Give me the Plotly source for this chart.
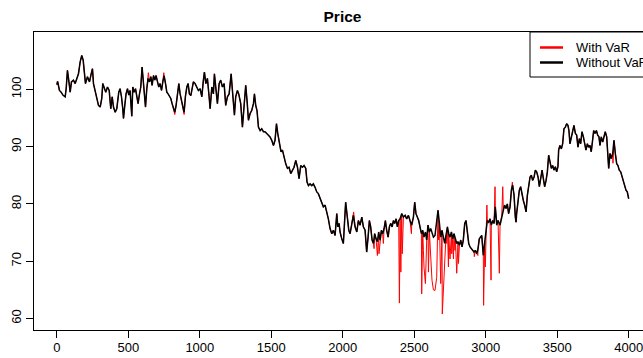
import plotly.graph_objects as go

# Price path without the VaR constraint (trading day, price)
days = [
    0, 5, 18, 30, 42, 58, 65, 74, 86, 93, 102, 116, 128, 140, 151, 163, 174, 184, 193, 200,
    214, 228, 240, 249, 256, 268, 279, 291, 303, 314, 321, 331, 342, 354, 366, 377, 387, 396, 408, 419,
    433, 442, 452, 461, 466, 475, 484, 494, 503, 512, 517, 524, 531, 540, 550, 559, 568, 578, 587, 596,
    603, 613, 620, 629, 638, 648, 657, 666, 676, 685, 694, 704, 713, 722, 732, 741, 750, 760, 769, 778,
    788, 797, 806, 816, 825, 834, 843, 853, 862, 871, 881, 890, 899, 909, 918, 927, 937, 946, 955, 967,
    979, 990, 1002, 1014, 1025, 1032, 1042, 1053, 1065, 1072, 1084, 1095, 1102, 1112, 1123, 1135, 1146, 1158, 1170, 1181,
    1193, 1205, 1219, 1228, 1242, 1251, 1263, 1272, 1286, 1298, 1310, 1321, 1331, 1340, 1352, 1363, 1375, 1382, 1391, 1400,
    1410, 1422, 1433, 1445, 1456, 1468, 1480, 1491, 1503, 1515, 1526, 1536, 1545, 1557, 1568, 1578, 1589, 1601, 1613, 1624,
    1636, 1648, 1659, 1671, 1683, 1694, 1706, 1718, 1729, 1741, 1750, 1760, 1771, 1783, 1794, 1806, 1818, 1829, 1841, 1853,
    1864, 1876, 1888, 1899, 1911, 1923, 1934, 1946, 1958, 1965, 1974, 1981, 1993, 2004, 2020, 2032, 2042, 2051, 2063, 2074,
    2086, 2098, 2109, 2121, 2133, 2144, 2156, 2167, 2177, 2186, 2195, 2205, 2214, 2223, 2233, 2242, 2251, 2261, 2270, 2279,
    2289, 2298, 2307, 2317, 2326, 2335, 2345, 2354, 2363, 2373, 2382, 2391, 2401, 2412, 2424, 2436, 2447, 2459, 2470, 2482,
    2494, 2503, 2512, 2522, 2531, 2540, 2550, 2559, 2568, 2578, 2587, 2596, 2606, 2615, 2624, 2634, 2645, 2657, 2666, 2676,
    2685, 2694, 2704, 2713, 2722, 2732, 2741, 2750, 2760, 2769, 2778, 2788, 2797, 2806, 2816, 2825, 2834, 2843, 2853, 2862,
    2871, 2881, 2890, 2899, 2909, 2918, 2927, 2937, 2946, 2955, 2972, 2983, 2993, 3002, 3011, 3021, 3030, 3039, 3049, 3058,
    3067, 3077, 3086, 3100, 3112, 3123, 3132, 3142, 3151, 3160, 3170, 3179, 3188, 3198, 3207, 3212, 3216, 3226, 3235, 3244,
    3254, 3263, 3272, 3282, 3291, 3300, 3310, 3319, 3328, 3338, 3347, 3356, 3366, 3375, 3384, 3394, 3403, 3412, 3422, 3431,
    3440, 3449, 3459, 3468, 3477, 3487, 3496, 3505, 3510, 3519, 3529, 3538, 3547, 3557, 3566, 3575, 3582, 3589, 3599, 3608,
    3617, 3627, 3636, 3645, 3655, 3664, 3673, 3683, 3692, 3701, 3711, 3720, 3729, 3738, 3746, 3755, 3764, 3774, 3783, 3792,
    3799, 3808, 3818, 3827, 3836, 3846, 3855, 3860, 3869, 3878, 3888, 3897, 3906, 3916, 3925, 3934, 3944, 3953, 3962, 3972,
    3981, 3990, 4000,
]
price_without_var = [
    100.8, 101.4, 99.8, 99.5, 99.0, 98.7, 100.1, 103.3, 101.0, 99.5, 101.3, 101.6, 101.0, 101.9, 102.7, 104.8, 105.9, 105.1, 103.3, 101.0,
    102.2, 101.3, 102.7, 103.6, 101.0, 99.5, 98.1, 97.2, 96.9, 98.4, 101.0, 100.4, 99.5, 100.4, 99.8, 96.6, 98.7, 96.9, 96.0, 96.6,
    99.5, 100.1, 98.7, 96.6, 94.9, 97.2, 99.2, 100.1, 99.0, 99.8, 98.1, 95.3, 100.4, 99.5, 100.1, 98.7, 97.5, 99.2, 100.4, 103.9,
    102.2, 99.2, 96.9, 100.1, 101.9, 101.3, 102.2, 100.7, 102.4, 101.6, 102.4, 101.3, 100.4, 101.0, 99.8, 101.3, 102.4, 101.0, 99.5, 99.2,
    98.7, 98.4, 97.5, 96.6, 96.0, 97.2, 99.2, 101.0, 99.2, 98.1, 96.9, 96.0, 98.7, 100.4, 101.0, 99.2, 98.9, 100.4, 101.3, 101.0,
    100.4, 99.8, 100.1, 98.7, 101.6, 103.0, 101.0, 101.9, 98.7, 96.6, 100.4, 99.2, 102.7, 100.4, 97.5, 101.0, 101.6, 100.4, 101.0, 97.2,
    98.7, 99.2, 102.7, 99.8, 95.5, 98.7, 99.8, 99.2, 97.5, 93.4, 97.5, 100.7, 97.8, 94.6, 95.8, 96.3, 97.5, 99.2, 97.2, 96.3,
    93.4, 92.8, 93.1, 92.6, 92.6, 92.3, 91.9, 91.7, 91.1, 90.2, 91.1, 94.0, 92.3, 90.5, 89.1, 89.4, 88.2, 87.0, 86.2, 86.4,
    85.3, 85.9, 86.4, 87.6, 86.4, 84.4, 86.7, 86.4, 86.7, 86.2, 83.8, 83.2, 83.5, 83.2, 83.5, 82.9, 82.1, 81.8, 80.9, 80.0,
    79.5, 79.8, 78.6, 77.4, 75.7, 74.8, 75.4, 74.5, 78.3, 76.0, 76.6, 75.1, 73.9, 73.1, 80.3, 77.7, 75.4, 74.8, 76.6, 78.0,
    76.0, 75.1, 77.1, 76.3, 77.7, 76.0, 75.4, 71.6, 74.2, 77.1, 76.0, 73.7, 73.1, 74.8, 73.9, 73.4, 75.1, 73.7, 75.4, 74.8,
    75.7, 77.1, 75.4, 74.2, 76.0, 76.6, 76.0, 77.1, 76.6, 77.4, 76.0, 77.1, 77.4, 78.3, 77.7, 78.0, 77.4, 78.0, 77.1, 76.3,
    77.7, 80.3, 78.3, 77.7, 77.1, 76.0, 74.8, 75.4, 74.2, 75.1, 73.7, 76.3, 75.1, 75.7, 74.8, 74.2, 74.5, 76.6, 78.9, 76.6,
    74.2, 75.4, 73.9, 73.1, 74.5, 76.0, 74.8, 74.2, 75.1, 73.9, 74.8, 73.7, 73.1, 73.4, 72.8, 73.7, 72.5, 73.7, 76.6, 77.1,
    74.8, 73.1, 72.5, 72.2, 71.9, 71.6, 71.9, 71.3, 72.2, 73.9, 74.5, 71.0, 73.4, 76.0, 77.1, 76.8, 77.4, 76.3, 77.1, 76.6,
    79.5, 76.3, 77.1, 76.3, 78.0, 78.9, 79.8, 79.2, 80.0, 78.3, 79.5, 82.4, 83.3, 81.5, 77.7, 76.8, 78.3, 80.3, 82.4, 83.0,
    81.5, 80.6, 79.8, 78.6, 81.5, 83.2, 84.7, 85.0, 84.1, 84.7, 85.9, 85.6, 84.7, 83.0, 84.7, 85.9, 84.4, 83.0, 84.1, 85.6,
    88.5, 87.3, 86.2, 86.7, 85.9, 86.5, 85.6, 86.5, 89.4, 90.2, 89.6, 90.5, 93.1, 93.4, 94.0, 93.7, 92.8, 90.5, 91.7, 93.1,
    93.7, 92.3, 92.0, 89.9, 91.4, 90.5, 92.6, 91.7, 90.8, 89.4, 90.5, 89.9, 90.2, 89.1, 90.8, 92.8, 92.3, 92.8, 92.0, 91.7,
    90.2, 91.7, 90.8, 92.0, 92.6, 91.7, 88.8, 86.2, 88.8, 87.9, 88.8, 91.1, 88.8, 87.0, 86.7, 85.9, 85.6, 84.7, 84.1, 83.0,
    82.4, 82.1, 80.9,
]

# Days where the VaR-constrained path departs from the unconstrained one
var_days = [
    640, 748, 825, 890, 2076, 2219, 2242, 2253, 2284, 2396, 2406, 2416, 2480,
    2552, 2564, 2568, 2578, 2599, 2615, 2624, 2634, 2645, 2657, 2671, 2685, 2696, 2704, 2713,
    2727, 2739, 2750, 2762, 2774, 2785, 2797, 2809, 2920, 2945, 2985, 2997, 3008, 3037,
    3065, 3095, 3119, 3186, 3517, 3890,
]
var_price = [
    102.9, 102.9, 95.6, 95.6, 78.6, 72.2, 71.0, 71.3, 73.1, 62.7, 68.1, 71.3, 74.8,
    64.3, 71.9, 69.0, 66.1, 68.1, 69.6, 66.7, 65.0, 64.9, 67.2, 73.7, 66.1, 60.8, 64.9, 69.0,
    73.1, 69.0, 70.4, 71.3, 70.4, 71.9, 67.9, 69.6, 70.8, 71.0, 62.3, 69.0, 79.8, 66.7,
    83.0, 67.9, 83.0, 83.8, 90.2, 87.1,
]

x_ticks = [0, 500, 1000, 1500, 2000, 2500, 3000, 3500, 4000]
y_ticks = [60, 70, 80, 90, 100]

# Full VaR path: the unconstrained path with the constrained days substituted in
with_var = dict(zip(days, price_without_var))
with_var.update(zip(var_days, var_price))
days_with_var = sorted(with_var)
price_with_var = [with_var[d] for d in days_with_var]

FONT = "Liberation Sans, Arial, sans-serif"
W, H = 643, 358
L, R, T, B = 34, 0, 32, 28
PW, PH = W - L - R, H - T - B


def px(x):
    return (x - L) / PW


def py(y):
    return (H - B - y) / PH


fig = go.Figure()
fig.add_trace(go.Scatter(x=days_with_var, y=price_with_var, mode="lines",
                         line=dict(color="#FF0000", width=1), name="With VaR",
                         showlegend=False))
fig.add_trace(go.Scatter(x=days, y=price_without_var, mode="lines",
                         line=dict(color="#000000", width=1.5), name="Without VaR",
                         showlegend=False))

# legend box drawn in the style of base R graphics
shapes = [
    dict(type="rect", xref="paper", yref="paper", x0=px(530), x1=px(700),
         y0=py(77), y1=py(32), line=dict(color="#000000", width=1)),
    dict(type="line", xref="paper", yref="paper", x0=px(540), x1=px(563),
         y0=py(47.5), y1=py(47.5), line=dict(color="#FF0000", width=2.5)),
    dict(type="line", xref="paper", yref="paper", x0=px(540), x1=px(563),
         y0=py(62.5), y1=py(62.5), line=dict(color="#000000", width=2.5)),
]
annotations = [
    dict(text="With VaR", xref="paper", yref="paper", x=px(574), y=py(47.5),
         xanchor="left", yanchor="middle", showarrow=False,
         font=dict(family=FONT, size=13, color="#000000")),
    dict(text="Without VaR", xref="paper", yref="paper", x=px(574), y=py(62.5),
         xanchor="left", yanchor="middle", showarrow=False,
         font=dict(family=FONT, size=13, color="#000000")),
]

fig.update_layout(
    width=W, height=H,
    margin=dict(l=L, r=R, t=T, b=B, pad=0),
    paper_bgcolor="white", plot_bgcolor="white",
    font=dict(family=FONT, size=13, color="#000000"),
    title=dict(text="<b>Price</b>", x=px(342.5), xref="paper", xanchor="center",
               y=1 - 17 / H, yref="container", yanchor="middle",
               font=dict(family=FONT, size=15.5, color="#000000")),
    shapes=shapes, annotations=annotations,
    showlegend=False,
)
fig.update_xaxes(range=[-160, 4100], tickvals=x_ticks, ticks="outside", ticklen=7,
                 tickwidth=1, tickcolor="#000000", showline=True, linecolor="#000000",
                 linewidth=1, mirror=True, showgrid=False, zeroline=False,
                 ticklabeloverflow="allow", ticklabelstandoff=-2,
                 tickfont=dict(family=FONT, size=13, color="#000000"))
fig.update_yaxes(range=[58, 110], tickvals=y_ticks, tickangle=-90, ticks="outside",
                 ticklen=7, tickwidth=1, tickcolor="#000000", showline=True,
                 linecolor="#000000", linewidth=1, showgrid=False, zeroline=False,
                 tickfont=dict(family=FONT, size=13, color="#000000"))

fig.write_html("out.html")
